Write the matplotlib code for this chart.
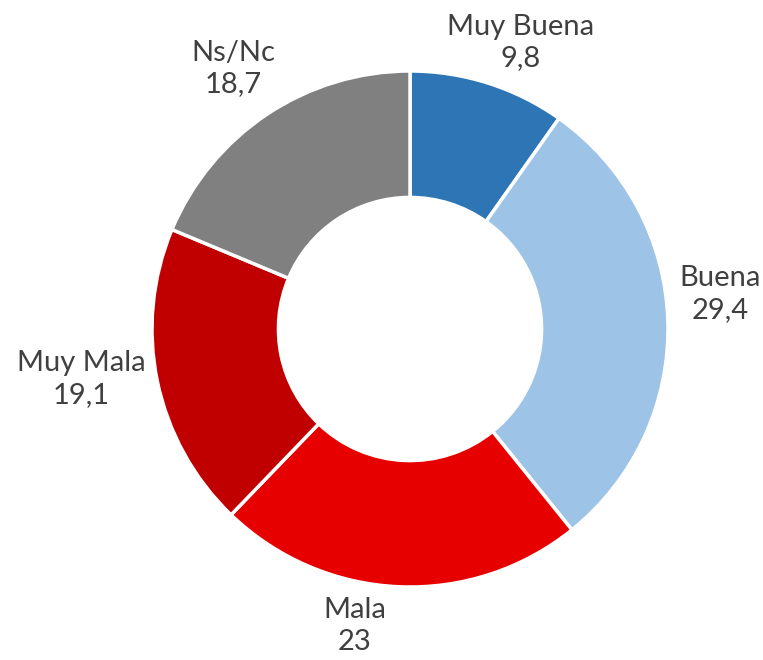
import numpy as np
import matplotlib.pyplot as plt

categories = ['Muy Buena', 'Buena', 'Mala', 'Muy Mala', 'Ns/Nc']
values = [9.8, 29.4, 23, 19.1, 18.7]
value_labels = ['9,8', '29,4', '23', '19,1', '18,7']
colors = ['#2E75B6', '#9DC3E6', '#E60000', '#C00000', '#808080']
# label placement: distance from centre (in radii) and angle shift from wedge middle
label_dist = [1.19, 1.21, 1.17, 1.29, 1.22]
label_shift = [-3.4, 4.6, -8.0, -3.1, 0.5]

plt.rcParams['font.family'] = ['Lato', 'DejaVu Sans']

fig = plt.figure(figsize=(7.63, 6.6), dpi=100)
cx, cy, r = 410, 660 - 329, 258
ax = fig.add_axes([(cx - r) / 763, (cy - r) / 660, 2 * r / 763, 2 * r / 660])

wedges, _ = ax.pie(values, colors=colors, startangle=90, counterclock=False,
                   radius=1, wedgeprops=dict(width=0.49, edgecolor='white', linewidth=2.5))

for w, cat, lab, d, s in zip(wedges, categories, value_labels, label_dist, label_shift):
    ang = np.deg2rad((w.theta1 + w.theta2) / 2 + s)
    ax.text(d * np.cos(ang), d * np.sin(ang), f'{cat}\n{lab}', ha='center', va='center',
            fontsize=21, color='#404040', linespacing=1.28)

ax.set_xlim(-1, 1)
ax.set_ylim(-1, 1)
ax.set_aspect('equal')
ax.axis('off')

fig.savefig('out.png', dpi=100)
